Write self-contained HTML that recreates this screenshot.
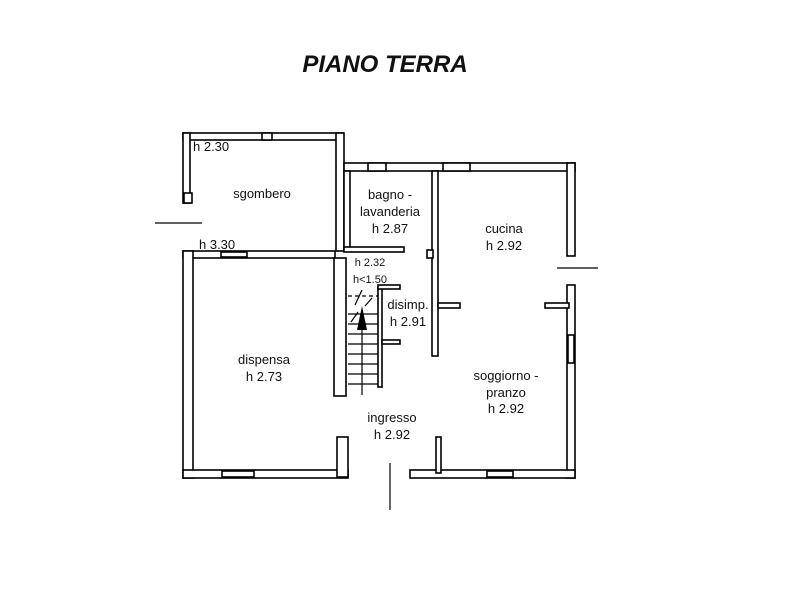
<!DOCTYPE html>
<html><head><meta charset="utf-8"><style>
body{margin:0;background:#fff}
svg{display:block}
text{font-family:"Liberation Sans",sans-serif;font-size:13px;fill:#111}
</style></head><body>
<svg width="791" height="600" viewBox="0 0 791 600" xmlns="http://www.w3.org/2000/svg">
<text x="385" y="72" text-anchor="middle" style="font-size:24px;font-weight:bold;font-style:italic">PIANO TERRA</text>
<g fill="#fff" stroke="#000" stroke-width="1.6">
<rect x="183" y="133" width="160" height="7"/>
<rect x="183" y="133" width="7" height="70"/>
<rect x="336" y="133" width="8" height="118"/>
<rect x="183" y="251" width="152" height="7"/>
<rect x="183" y="251" width="10" height="227"/>
<rect x="262" y="133" width="10" height="7"/>
<rect x="184" y="193" width="8" height="10"/>
<rect x="221" y="252" width="26" height="5"/>
<rect x="344" y="163" width="231" height="8"/>
<rect x="368" y="163" width="18" height="8"/>
<rect x="443" y="163" width="27" height="8"/>
<rect x="567" y="163" width="8" height="93"/>
<rect x="567" y="285" width="8" height="193"/>
<rect x="568" y="335" width="6" height="28"/>
<rect x="545" y="303" width="24" height="5"/>
<rect x="344" y="171" width="6" height="80"/>
<rect x="344" y="247" width="60" height="5"/>
<rect x="432" y="171" width="6" height="185"/>
<rect x="427" y="250" width="6" height="8"/>
<rect x="438" y="303" width="22" height="5"/>
<rect x="334" y="258" width="12" height="138"/>
<rect x="378" y="287" width="4" height="100"/>
<rect x="378" y="285" width="22" height="4"/>
<rect x="382" y="340" width="18" height="4"/>
<rect x="183" y="470" width="165" height="8"/>
<rect x="337" y="437" width="11" height="40"/>
<rect x="410" y="470" width="165" height="8"/>
<rect x="436" y="437" width="5" height="36"/>
<rect x="222" y="471" width="32" height="6"/>
<rect x="487" y="471" width="26" height="6"/>
</g>
<g stroke="#000" stroke-width="1.2">
<line x1="348" y1="314" x2="378" y2="314"/>
<line x1="348" y1="324" x2="378" y2="324"/>
<line x1="348" y1="334" x2="378" y2="334"/>
<line x1="348" y1="344" x2="378" y2="344"/>
<line x1="348" y1="354" x2="378" y2="354"/>
<line x1="348" y1="364" x2="378" y2="364"/>
<line x1="348" y1="374" x2="378" y2="374"/>
<line x1="348" y1="384" x2="378" y2="384"/>
<line x1="362" y1="310" x2="362" y2="395"/>
<line x1="348" y1="296" x2="378" y2="296" stroke-dasharray="4,3"/>
<line x1="355" y1="305" x2="362" y2="290"/>
<line x1="365" y1="306" x2="372" y2="298"/>
<line x1="351" y1="322" x2="358" y2="312"/>
<line x1="155" y1="223" x2="202" y2="223"/>
<line x1="557" y1="268" x2="598" y2="268"/>
<line x1="390" y1="463" x2="390" y2="510"/>
</g>
<polygon points="362,306 357,330 367,330" fill="#000"/>
<text x="193" y="151">h 2.30</text>
<text x="262" y="198" text-anchor="middle">sgombero</text>
<text x="199" y="249">h 3.30</text>
<text x="390" y="199" text-anchor="middle">bagno -</text>
<text x="390" y="216" text-anchor="middle">lavanderia</text>
<text x="390" y="233" text-anchor="middle">h 2.87</text>
<text x="370" y="266" text-anchor="middle" style="font-size:11px">h 2.32</text>
<text x="370" y="283" text-anchor="middle" style="font-size:11px">h&lt;1.50</text>
<text x="408" y="309" text-anchor="middle">disimp.</text>
<text x="408" y="326" text-anchor="middle">h 2.91</text>
<text x="504" y="233" text-anchor="middle">cucina</text>
<text x="504" y="250" text-anchor="middle">h 2.92</text>
<text x="264" y="364" text-anchor="middle">dispensa</text>
<text x="264" y="381" text-anchor="middle">h 2.73</text>
<text x="506" y="380" text-anchor="middle">soggiorno -</text>
<text x="506" y="397" text-anchor="middle">pranzo</text>
<text x="506" y="413" text-anchor="middle">h 2.92</text>
<text x="392" y="422" text-anchor="middle">ingresso</text>
<text x="392" y="439" text-anchor="middle">h 2.92</text>
</svg>
</body></html>
